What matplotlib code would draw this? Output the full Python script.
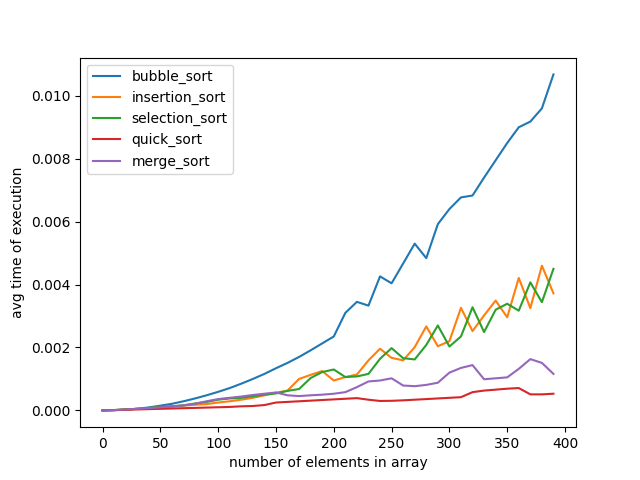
import numpy as np
from matplotlib import pyplot as plt

#array sizes that were timed
sizes = list(range(0, 400, 10))

#average execution times read per algorithm
bubble_sort = [0.0, 0.000006, 0.000024, 0.000053, 0.000094, 0.00015, 0.00021, 0.00029,
               0.00038, 0.00048, 0.00059, 0.00071, 0.00085, 0.001, 0.00116, 0.00134,
               0.00151, 0.0017, 0.00191, 0.00213, 0.00235, 0.0031, 0.00345, 0.00333,
               0.00426, 0.00404, 0.00467, 0.0053, 0.00484, 0.00592, 0.0064, 0.00677,
               0.00683, 0.0074, 0.00795, 0.0085, 0.009, 0.00918, 0.0096, 0.01068]
insertion_sort = [0.0, 0.00001, 0.00003, 0.00005, 0.00007, 0.0001, 0.00012, 0.00015,
                  0.00018, 0.0002, 0.00025, 0.00029, 0.00034, 0.0004, 0.00048, 0.00056,
                  0.00063, 0.001, 0.00113, 0.00125, 0.00095, 0.00106, 0.00114, 0.00159,
                  0.00196, 0.00167, 0.00159, 0.00201, 0.00267, 0.00204, 0.0022, 0.00326,
                  0.00252, 0.00302, 0.00349, 0.00296, 0.00421, 0.00325, 0.0046, 0.00372]
selection_sort = [0.0, 0.00001, 0.00003, 0.00005, 0.00008, 0.00011, 0.00013, 0.00016,
                  0.00022, 0.00027, 0.00034, 0.00038, 0.0004, 0.00045, 0.0005, 0.00054,
                  0.00062, 0.00068, 0.00103, 0.00122, 0.0013, 0.00106, 0.00108, 0.00116,
                  0.00164, 0.00198, 0.00166, 0.00162, 0.00208, 0.0027, 0.00203, 0.00235,
                  0.00328, 0.00249, 0.0032, 0.00339, 0.00317, 0.00407, 0.00344, 0.0045]
quick_sort = [0.0, 0.00001, 0.00002, 0.00003, 0.00004, 0.00005, 0.00006, 0.00007,
              0.00008, 0.00009, 0.0001, 0.00011, 0.00013, 0.00014, 0.00017, 0.00025,
              0.00027, 0.00029, 0.00031, 0.00033, 0.00035, 0.00037, 0.00039, 0.00034,
              0.0003, 0.000305, 0.00032, 0.00034, 0.00036, 0.00038, 0.0004, 0.00042,
              0.00058, 0.00063, 0.00066, 0.00069, 0.00071, 0.00051, 0.00051, 0.00053]
merge_sort = [0.0, 0.00001, 0.00003, 0.00005, 0.00007, 0.0001, 0.00013, 0.00016,
              0.00021, 0.00029, 0.00036, 0.0004, 0.00044, 0.00049, 0.00053, 0.00057,
              0.00048, 0.000455, 0.00048, 0.0005, 0.00053, 0.00058, 0.00074, 0.00092,
              0.00095, 0.00102, 0.00079, 0.00077, 0.00081, 0.00088, 0.0012, 0.00135,
              0.00144, 0.00099, 0.00102, 0.00105, 0.00132, 0.00163, 0.00151, 0.00116]

series = {'bubble_sort': bubble_sort,
          'insertion_sort': insertion_sort,
          'selection_sort': selection_sort,
          'quick_sort': quick_sort,
          'merge_sort': merge_sort}

plt.figure(figsize=(6.4, 4.8), dpi=100)
for key, vals in series.items():
    plt.plot(sizes, vals, label=key)
plt.legend(loc='upper left')
plt.xlabel('number of elements in array')
plt.ylabel('avg time of execution')
plt.savefig('out.png')
